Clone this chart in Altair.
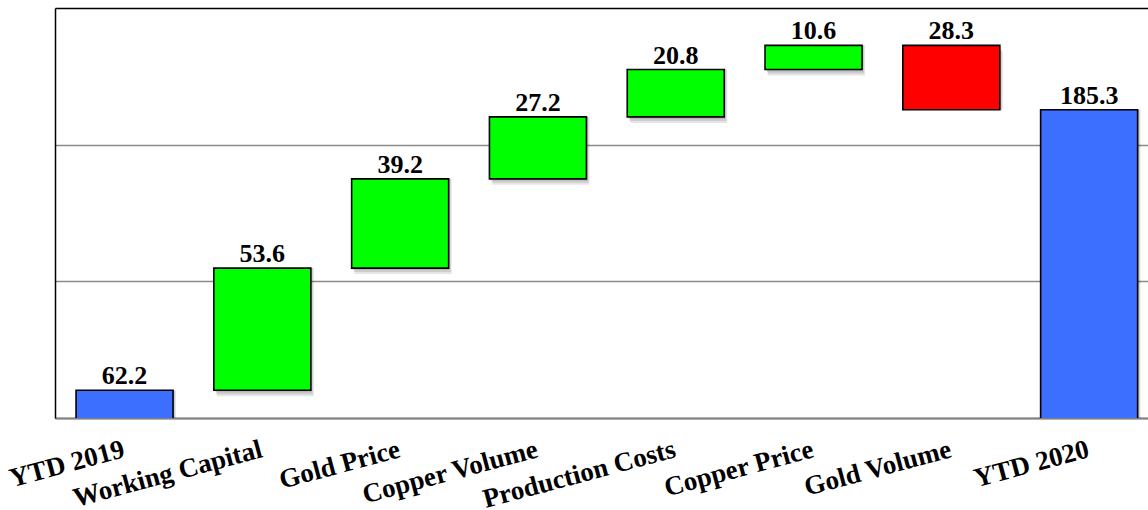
import altair as alt
import pandas as pd

# Bridge from YTD 2019 to YTD 2020
categories = ["YTD 2019", "Working Capital", "Gold Price", "Copper Volume",
              "Production Costs", "Copper Price", "Gold Volume", "YTD 2020"]
changes = [62.2, 53.6, 39.2, 27.2, 20.8, 10.6, -28.3, 185.3]
kinds = ["total", "up", "up", "up", "up", "up", "down", "total"]

kind_domain = ["total", "up", "down"]
kind_colors = ["#3C6EFF", "#00FF00", "#FF0000"]

# running start/end of each step
rows = []
running = 0.0
for cat, chg, kind in zip(categories, changes, kinds):
    if kind == "total":
        start, end = 0.0, chg
        running = chg
    else:
        start, end = running, running + chg
        running = end
    rows.append({
        "category": cat,
        "kind": kind,
        "start": start,
        "end": end,
        "top": max(start, end),
        "label": f"{abs(chg):.1f}",
    })
df = pd.DataFrame(rows)

serif = "Liberation Serif"

x_enc = alt.X(
    "category:N",
    sort=categories,
    scale=alt.Scale(paddingInner=0.296, paddingOuter=0.114, align=0.67),
    axis=alt.Axis(
        title=None,
        labelAngle=345,
        labelAlign="right",
        labelBaseline="top",
        labelFont=serif,
        labelFontWeight="bold",
        labelFontSize=27,
        labelColor="black",
        labelPadding=18,
        labelOffset=-4,
        labelLimit=400,
        labelOverlap=False,
        ticks=False,
        domainColor="#808080",
        domainWidth=2,
        grid=False,
    ),
)

y_scale = alt.Scale(domain=[50, 230], nice=False, zero=False)
y_enc = alt.Y(
    "start:Q",
    scale=y_scale,
    axis=alt.Axis(
        title=None,
        labels=False,
        ticks=False,
        values=[50, 110, 170, 230],
        domainColor="black",
        domainWidth=1.5,
        gridColor={"condition": {"test": "datum.value >= 230", "value": "black"},
                   "value": "#8A8A8A"},
        gridWidth=1.6,
    ),
)

base = alt.Chart(df)

# soft drop shadow under each bar
shadows = [
    base.mark_bar(color="#000000", opacity=0.10, xOffset=dx, yOffset=dy, clip=True)
    .encode(x=x_enc, y=y_enc, y2="end:Q")
    for dx, dy in [(1, 2), (2, 4), (3, 6)]
]

bars = base.mark_bar(stroke="black", strokeWidth=1.6, clip=True).encode(
    x=x_enc,
    y=y_enc,
    y2="end:Q",
    color=alt.Color("kind:N", scale=alt.Scale(domain=kind_domain, range=kind_colors), legend=None),
)

labels = base.mark_text(
    font=serif, fontWeight="bold", fontSize=26, baseline="alphabetic", dy=-6, color="black"
).encode(
    x=alt.X("category:N", sort=categories),
    y=alt.Y("top:Q", scale=y_scale),
    text="label:N",
)

chart = (
    alt.layer(*shadows, bars, labels)
    .properties(
        width=1093,
        height=410,
        padding={"left": 55, "top": 8, "right": 0, "bottom": 92},
        autosize="none",
        background="white",
    )
    .configure_view(stroke=None)
)

chart.save("out.html", embed_options={"renderer": "svg", "actions": False})
